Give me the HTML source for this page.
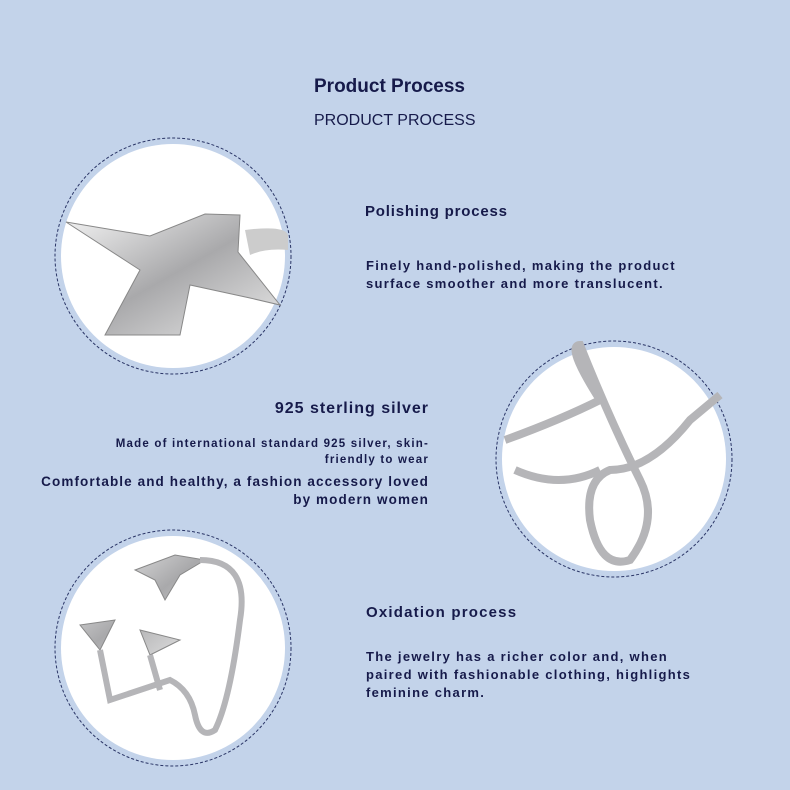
<!DOCTYPE html>
<html><head><meta charset="utf-8"><style>
body{margin:0;width:790px;height:790px;background:#c3d3ea;font-family:"Liberation Sans",sans-serif;color:#161a4a;position:relative;overflow:hidden}
.t{position:absolute;font-weight:bold;white-space:nowrap}
</style></head><body>
<svg width="790" height="790" style="position:absolute;left:0;top:0">
<defs><linearGradient id="s" x1="0" y1="0" x2="1" y2="1"><stop offset="0" stop-color="#f4f4f4"/><stop offset=".5" stop-color="#a9a9ab"/><stop offset="1" stop-color="#e8e8e8"/></linearGradient></defs>
<g fill="#fff"><circle cx="173" cy="256" r="112"/><circle cx="614" cy="459" r="112"/><circle cx="173" cy="648" r="112"/></g>
<g fill="none" stroke="#2a3566" stroke-width="1" stroke-dasharray="3,2"><circle cx="173" cy="256" r="118"/><circle cx="614" cy="459" r="118"/><circle cx="173" cy="648" r="118"/></g>
<path d="M66 222 L150 236 L205 214 L240 215 L238 252 L280 305 L250 298 L190 285 L180 335 L105 335 L140 270 Z" fill="url(#s)" stroke="#888" stroke-width="1"/>
<path d="M245 230 Q285 225 288 235 L288 250 Q265 248 250 255 Z" fill="#ccc"/>
<path d="M505 440 Q560 420 600 400 Q565 345 580 345 Q610 420 640 480 Q660 520 630 560 Q600 570 590 520 Q585 480 610 470 Q650 470 690 420 L720 395 M515 470 Q560 490 600 470" fill="none" stroke="#b5b5b8" stroke-width="8"/>
<path d="M135 570 L175 555 L205 560 L180 575 L165 600 L155 580 Z M80 625 L115 620 L100 650 Z M140 630 L180 640 L150 655 Z" fill="url(#s)" stroke="#888"/>
<path d="M200 560 Q250 560 240 620 Q230 700 215 730 Q200 740 195 715 Q190 690 170 680 Q140 690 110 700 L100 650 M150 655 L160 690" fill="none" stroke="#b5b5b8" stroke-width="6"/>
</svg>
<div class="t" style="left:314px;top:76px;font-size:19px">Product Process</div>
<div class="t" style="left:314px;top:112px;font-size:16px;font-weight:normal">PRODUCT PROCESS</div>
<div class="t" style="left:365px;top:203px;font-size:15px;letter-spacing:0.8px">Polishing process</div>
<div class="t" style="left:366px;top:257px;font-size:13px;line-height:18px;letter-spacing:1.3px">Finely hand-polished, making the product<br>surface smoother and more translucent.</div>
<div class="t" style="right:361px;top:400px;font-size:16px;letter-spacing:1px">925 sterling silver</div>
<div class="t" style="right:361px;top:436px;font-size:11.5px;text-align:right;line-height:16px;letter-spacing:1.2px">Made of international standard 925 silver, skin-<br>friendly to wear</div>
<div class="t" style="right:361px;top:473px;font-size:13.5px;text-align:right;line-height:18px;letter-spacing:1.1px">Comfortable and healthy, a fashion accessory loved<br>by modern women</div>
<div class="t" style="left:366px;top:604px;font-size:15px;letter-spacing:1.2px">Oxidation process</div>
<div class="t" style="left:366px;top:648px;font-size:13px;line-height:18px;letter-spacing:1.3px">The jewelry has a richer color and, when<br>paired with fashionable clothing, highlights<br>feminine charm.</div>
</body></html>
